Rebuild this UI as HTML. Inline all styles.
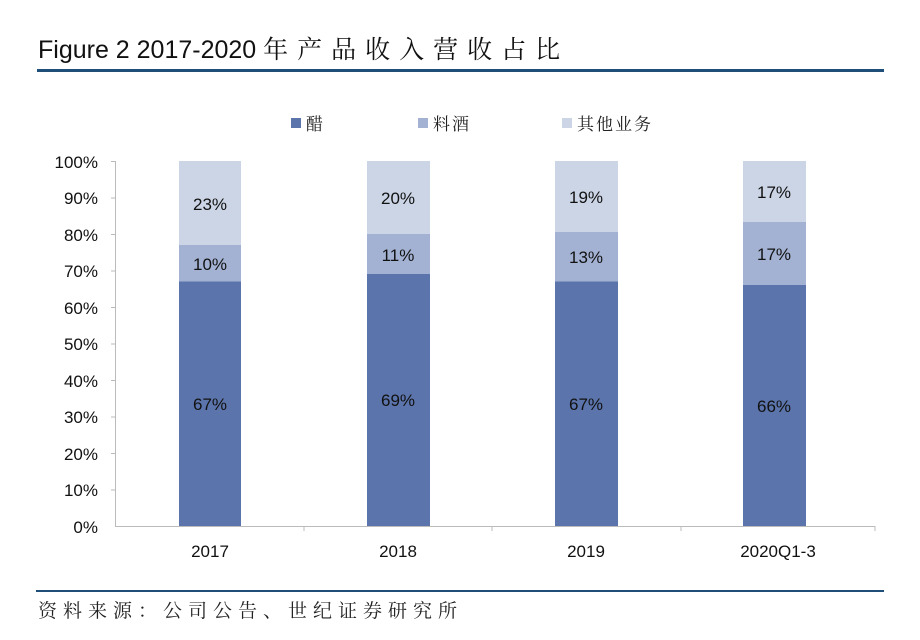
<!DOCTYPE html><html><head><meta charset="utf-8"><style>body{margin:0;background:#fff}</style></head><body>
<svg width="920" height="635" xmlns="http://www.w3.org/2000/svg" font-family="Liberation Sans, Noto Sans CJK SC, sans-serif">
<rect width="920" height="635" fill="#fff"/>
<text x="38" y="58" font-size="25" fill="#111">Figure 2 2017-2020 <tspan font-family="Noto Serif CJK SC, serif" font-size="25" letter-spacing="9">年产品收入营收占比</tspan></text>
<rect x="37" y="69" width="847" height="3" fill="#1f4e79"/>
<g font-size="17" font-family="Noto Serif CJK SC, serif" fill="#222" letter-spacing="2">
<rect x="291" y="118" width="10" height="10" fill="#5b74ab"/><text x="306" y="130">醋</text>
<rect x="418" y="118" width="10" height="10" fill="#a3b2d3"/><text x="433" y="130">料酒</text>
<rect x="562" y="118" width="10" height="10" fill="#cbd5e6"/><text x="577" y="130">其他业务</text>
</g>
<g stroke="#bbb" stroke-width="1">
<line x1="115.5" y1="161" x2="115.5" y2="526"/>
<line x1="115" y1="526.5" x2="875" y2="526.5"/>
<line x1="111" y1="161.5" x2="115" y2="161.5"/><line x1="111" y1="198" x2="115" y2="198"/><line x1="111" y1="234.5" x2="115" y2="234.5"/><line x1="111" y1="271" x2="115" y2="271"/><line x1="111" y1="307.5" x2="115" y2="307.5"/><line x1="111" y1="344" x2="115" y2="344"/><line x1="111" y1="380.5" x2="115" y2="380.5"/><line x1="111" y1="417" x2="115" y2="417"/><line x1="111" y1="453.5" x2="115" y2="453.5"/><line x1="111" y1="490" x2="115" y2="490"/>
<line x1="304" y1="526" x2="304" y2="531"/><line x1="492" y1="526" x2="492" y2="531"/><line x1="681" y1="526" x2="681" y2="531"/><line x1="875" y1="526" x2="875" y2="531"/>
</g>
<g font-size="17" fill="#111" text-anchor="end">
<text x="98" y="168">100%</text><text x="98" y="204">90%</text><text x="98" y="241">80%</text><text x="98" y="277">70%</text><text x="98" y="314">60%</text><text x="98" y="350">50%</text><text x="98" y="387">40%</text><text x="98" y="423">30%</text><text x="98" y="460">20%</text><text x="98" y="496">10%</text><text x="98" y="533">0%</text>
</g>
<g>
<rect x="179" y="161" width="62" height="85" fill="#cbd5e6"/><rect x="179" y="245" width="62" height="37" fill="#a3b2d3"/><rect x="179" y="281.5" width="62" height="244.5" fill="#5b74ab"/>
<rect x="367" y="161" width="63" height="74" fill="#cbd5e6"/><rect x="367" y="234" width="63" height="41" fill="#a3b2d3"/><rect x="367" y="274" width="63" height="252" fill="#5b74ab"/>
<rect x="555" y="161" width="63" height="72" fill="#cbd5e6"/><rect x="555" y="232" width="63" height="50" fill="#a3b2d3"/><rect x="555" y="281.5" width="63" height="244.5" fill="#5b74ab"/>
<rect x="743" y="161" width="63" height="62" fill="#cbd5e6"/><rect x="743" y="222" width="63" height="63" fill="#a3b2d3"/><rect x="743" y="285" width="63" height="241" fill="#5b74ab"/>
</g>
<g font-size="17" fill="#111" text-anchor="middle">
<text x="210" y="210">23%</text><text x="210" y="270">10%</text><text x="210" y="410">67%</text>
<text x="398" y="204">20%</text><text x="398" y="261">11%</text><text x="398" y="406">69%</text>
<text x="586" y="203">19%</text><text x="586" y="263">13%</text><text x="586" y="410">67%</text>
<text x="774" y="198">17%</text><text x="774" y="260">17%</text><text x="774" y="412">66%</text>
<text x="210" y="557">2017</text><text x="398" y="557">2018</text><text x="586" y="557">2019</text><text x="778" y="557">2020Q1-3</text>
</g>
<rect x="36" y="590" width="848" height="2" fill="#1f4e79"/>
<text x="38" y="617" font-size="19" font-family="Noto Serif CJK SC, serif" fill="#222" letter-spacing="6">资料来源：公司公告、世纪证券研究所</text>
</svg>
</body></html>
